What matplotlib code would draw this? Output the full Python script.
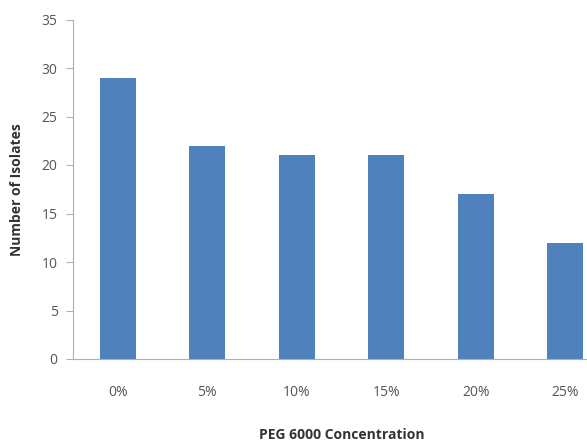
import matplotlib.pyplot as plt
import numpy as np

# data
concentrations = ['0%', '5%', '10%', '15%', '20%', '25%']
isolates = [29, 22, 21, 21, 17, 12]

plt.rcParams['font.family'] = ['Open Sans', 'DejaVu Sans']

fig = plt.figure(figsize=(5.87, 4.43), dpi=100)
# axes runs a little past the right edge, as in the original screenshot
ax = fig.add_axes([73 / 587, 1 - 359 / 443, 537 / 587, (359 - 19.5) / 443])

x = np.arange(len(concentrations))
ax.bar(x, isolates, width=0.4, color='#4F81BD')

ax.set_xlim(-0.5, len(concentrations) - 0.5)
ax.set_ylim(0, 35)
ax.set_yticks(range(0, 36, 5))
ax.set_xticks(x)
ax.set_xticklabels(concentrations)

for side in ['top', 'right']:
    ax.spines[side].set_visible(False)
for side in ['left', 'bottom']:
    ax.spines[side].set_color('#b0b0b0')
    ax.spines[side].set_linewidth(0.8)

ax.tick_params(axis='y', colors='#b0b0b0', labelcolor='#555555', labelsize=10, length=5, width=0.8, pad=6)
ax.tick_params(axis='x', length=0, labelcolor='#555555', labelsize=10, pad=19)

ax.set_xlabel('PEG 6000 Concentration', fontsize=10, fontweight='bold', color='#333333', labelpad=20)
ax.set_ylabel('Number of Isolates', fontsize=10, fontweight='bold', color='#333333', labelpad=13)

fig.savefig('out.png', dpi=100)
